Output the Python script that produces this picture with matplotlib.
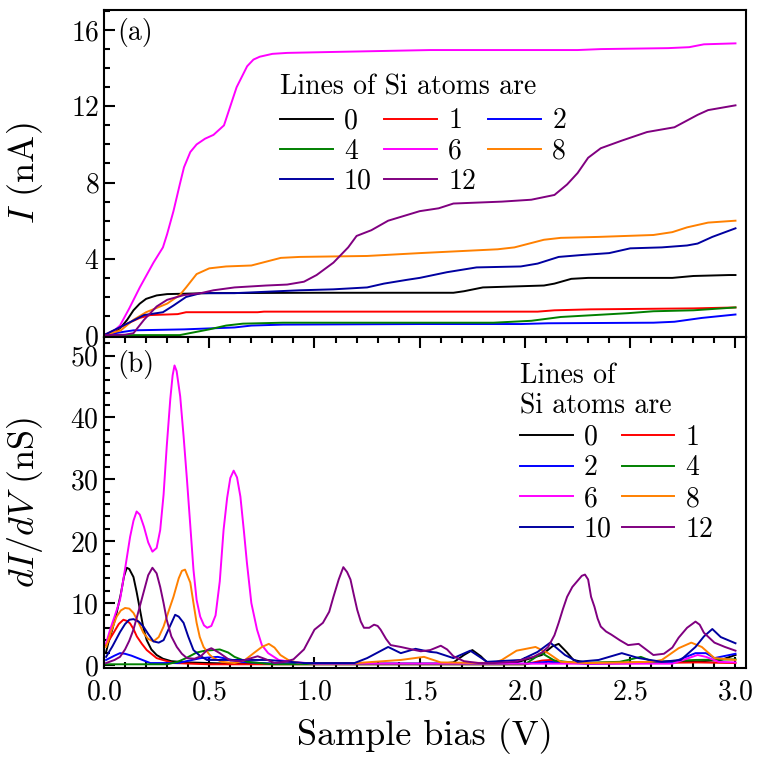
import numpy as np
import matplotlib
matplotlib.use("Agg")
import matplotlib.pyplot as plt
from matplotlib.ticker import MultipleLocator

# --- fonts: Computer Modern look ---
plt.rcParams['font.family'] = 'cmr10'
plt.rcParams['mathtext.fontset'] = 'cm'
plt.rcParams['axes.formatter.use_mathtext'] = True

# --- data: (a) current I (nA) vs sample bias (V) ---
labels = ['0', '1', '2', '4', '6', '8', '10', '12']
colors = ['black', '#ff0000', '#0000ff', '#008000', '#ff00ff', '#ff8000', '#0000a0', '#800080']

v_i0 = [0, 0.05, 0.08, 0.11, 0.14, 0.17, 0.2, 0.25, 0.3, 0.5, 1.0, 1.5, 1.66, 1.71, 1.8, 2.09,
        2.14, 2.22, 2.3, 2.7, 2.8, 2.97, 3.0]
i0 = [0, 0.15, 0.4, 0.8, 1.3, 1.65, 1.9, 2.08, 2.15, 2.2, 2.22, 2.22, 2.22, 2.3, 2.5, 2.6,
      2.7, 2.95, 3.0, 3.0, 3.1, 3.15, 3.15]

v_i1 = [0, 0.05, 0.11, 0.17, 0.22, 0.35, 0.39, 0.73, 0.76, 1.5, 2.06, 2.14, 2.31, 2.8, 3.0]
i1 = [0, 0.25, 0.6, 0.9, 1.05, 1.1, 1.2, 1.2, 1.23, 1.23, 1.23, 1.3, 1.35, 1.4, 1.45]

v_i2 = [0, 0.08, 0.14, 0.38, 0.62, 0.7, 0.85, 1.5, 1.98, 2.11, 2.61, 2.71, 2.84, 3.0]
i2 = [0, 0.15, 0.25, 0.3, 0.4, 0.5, 0.55, 0.58, 0.58, 0.62, 0.65, 0.7, 0.9, 1.08]

v_i4 = [0, 0.36, 0.43, 0.5, 0.58, 0.66, 0.85, 1.5, 1.85, 2.03, 2.17, 2.33, 2.49, 2.61, 2.8, 3.0]
i4 = [0, 0, 0.15, 0.3, 0.5, 0.6, 0.65, 0.65, 0.65, 0.75, 0.95, 1.05, 1.15, 1.25, 1.3, 1.45]

v_i6 = [0, 0.04, 0.076, 0.12, 0.17, 0.235, 0.28, 0.3, 0.33, 0.36, 0.38, 0.41, 0.44, 0.48, 0.52,
        0.57, 0.6, 0.63, 0.68, 0.71, 0.74, 0.8, 0.87, 1.09, 1.55, 2.25, 2.36, 2.68, 2.78,
        2.85, 3.0]
i6 = [0, 0.15, 0.5, 1.4, 2.5, 3.8, 4.6, 5.3, 6.5, 7.9, 8.8, 9.6, 10.0, 10.3, 10.5,
      11.0, 12.0, 13.0, 14.1, 14.45, 14.6, 14.75, 14.8, 14.85, 14.95, 14.95, 15.0, 15.05, 15.1,
      15.25, 15.3]

v_i8 = [0, 0.08, 0.14, 0.2, 0.3, 0.36, 0.39, 0.44, 0.5, 0.58, 0.7, 0.77, 0.84, 0.93, 1.25,
        1.5, 1.87, 1.95, 2.09, 2.17, 2.35, 2.61, 2.7, 2.77, 2.87, 3.0]
i8 = [0, 0.25, 0.8, 1.2, 1.65, 2.1, 2.5, 3.2, 3.5, 3.6, 3.65, 3.85, 4.05, 4.1, 4.15,
      4.3, 4.5, 4.6, 5.0, 5.1, 5.15, 5.25, 5.4, 5.65, 5.9, 6.0]

v_i10 = [0, 0.11, 0.19, 0.28, 0.33, 0.39, 0.46, 0.62, 0.93, 1.09, 1.25, 1.33, 1.44, 1.5, 1.63,
         1.77, 1.98, 2.06, 2.16, 2.27, 2.4, 2.5, 2.65, 2.77, 2.82, 2.89, 3.0]
i10 = [0, 0.6, 1.05, 1.2, 1.55, 2.0, 2.2, 2.2, 2.35, 2.4, 2.5, 2.7, 2.9, 3.0, 3.3,
       3.55, 3.6, 3.75, 4.1, 4.2, 4.3, 4.55, 4.6, 4.7, 4.8, 5.15, 5.6]

v_i12 = [0, 0.1, 0.14, 0.19, 0.25, 0.3, 0.38, 0.46, 0.52, 0.62, 0.77, 0.87, 0.95, 1.01, 1.09,
         1.16, 1.2, 1.27, 1.35, 1.44, 1.5, 1.59, 1.66, 1.89, 2.03, 2.14, 2.2, 2.25, 2.3, 2.36,
         2.46, 2.58, 2.71, 2.82, 2.87, 3.0]
i12 = [0, 0.02, 0.1, 0.8, 1.5, 1.85, 2.1, 2.2, 2.35, 2.5, 2.6, 2.65, 2.8, 3.15, 3.8,
       4.6, 5.2, 5.5, 6.0, 6.3, 6.5, 6.65, 6.9, 7.0, 7.1, 7.35, 7.9, 8.5, 9.3, 9.8,
       10.2, 10.65, 10.9, 11.55, 11.8, 12.05]

# --- data: (b) dI/dV (nS) vs sample bias (V) ---
v_g0 = [0.01, 0.02, 0.04, 0.06, 0.08, 0.095, 0.108, 0.12, 0.14, 0.155, 0.171, 0.187, 0.203,
        0.225, 0.25, 0.28, 0.32, 0.4, 0.6, 1.6, 1.66, 1.71, 1.75, 1.79, 1.82, 1.95,
        2.08, 2.13, 2.16, 2.2, 2.23, 2.3, 2.8, 2.93, 3.0]
g0 = [2.1, 3.5, 5.8, 8.4, 11.5, 14.3, 15.7, 15.5, 14.2, 11.8, 8.9, 6.0, 4.0,
      2.5, 1.6, 1.0, 0.6, 0.4, 0.2, 0.2, 0.4, 1.6, 2.4, 1.4, 0.4, 0.3,
      1.6, 3.0, 3.4, 2.0, 0.8, 0.3, 0.5, 0.8, 1.6]

v_g1 = [0.01, 0.044, 0.07, 0.092, 0.11, 0.124, 0.14, 0.156, 0.18, 0.203, 0.25, 0.33, 0.5,
        2.0, 2.08, 2.12, 2.17, 2.3, 2.82, 3.0]
g1 = [3.2, 5.1, 6.6, 7.3, 7.1, 6.7, 5.8, 4.6, 3.4, 2.4, 1.1, 0.3, 0.1,
      0.1, 0.7, 0.8, 0.5, 0.2, 0.4, 0.3]

v_g2 = [0.01, 0.05, 0.076, 0.1, 0.13, 0.16, 0.22, 0.35, 0.46, 0.54, 0.65, 0.8, 2.0, 2.11,
        2.3, 2.7, 2.81, 2.86, 2.9, 3.0]
g2 = [0.8, 1.5, 1.9, 1.8, 1.5, 1.1, 0.3, 0.3, 1.1, 1.3, 0.5, 0.2, 0.2, 0.5,
      0.2, 0.4, 1.9, 1.9, 1.1, 1.8]

v_g4 = [0.01, 0.3, 0.35, 0.39, 0.44, 0.48, 0.52, 0.55, 0.59, 0.62, 0.68, 0.8, 2.0, 2.08, 2.14,
        2.25, 2.45, 2.49, 2.55, 2.61, 2.81, 3.0]
g4 = [0.1, 0.1, 0.5, 1.1, 2.0, 2.3, 2.4, 2.5, 2.0, 1.3, 0.5, 0.1, 0.1, 1.9, 0.7,
      0.3, 0.5, 0.8, 1.3, 0.5, 0.8, 0.9]

v_g6 = [0.01, 0.03, 0.05, 0.076, 0.1, 0.124, 0.14, 0.155, 0.17, 0.19, 0.21, 0.23, 0.25, 0.267,
        0.283, 0.298, 0.315, 0.326, 0.335, 0.345, 0.362, 0.378, 0.394, 0.41, 0.425, 0.44,
        0.457, 0.475, 0.49, 0.51, 0.53, 0.55, 0.568, 0.585, 0.6, 0.616, 0.632, 0.648, 0.665,
        0.679, 0.7, 0.727, 0.75, 0.78, 0.83, 0.89, 1.0, 2.7, 2.82, 2.86, 2.92, 3.0]
g6 = [3.5, 5.8, 7.8, 10.5, 15.5, 20.7, 23.3, 24.8, 24.3, 22.3, 19.8, 18.3, 18.9, 21.8,
      27.5, 35.3, 43.0, 46.8, 48.4, 47.5, 43.4, 37.0, 30.0, 22.5, 15.4, 10.5,
      7.8, 6.4, 6.0, 6.3, 8.0, 13.5, 21.8, 27.0, 30.2, 31.4, 30.3, 27.2, 21.5,
      16.5, 10.0, 5.7, 3.2, 1.9, 0.8, 0.5, 0.2, 0.2, 1.6, 1.3, 0.5, 0.4]

v_g8 = [0.01, 0.035, 0.06, 0.08, 0.1, 0.12, 0.14, 0.165, 0.187, 0.21, 0.235, 0.26, 0.283, 0.31,
        0.33, 0.355, 0.37, 0.385, 0.41, 0.425, 0.44, 0.455, 0.473, 0.5, 0.52, 0.56, 0.62,
        0.67, 0.711, 0.75, 0.783, 0.81, 0.838, 0.88, 0.93, 1.2, 1.41, 1.52, 1.6, 1.85, 1.89,
        1.96, 2.05, 2.11, 2.17, 2.3, 2.6, 2.65, 2.73, 2.79, 2.84, 2.9, 3.0]
g8 = [2.9, 5.5, 7.8, 8.8, 9.2, 9.1, 8.4, 6.8, 5.2, 4.2, 3.8, 4.5, 6.2, 9.0,
      11.0, 14.0, 15.2, 15.4, 13.3, 10.0, 6.8, 4.5, 2.9, 1.7, 1.1, 0.5, 0.3,
      0.8, 1.9, 2.9, 3.4, 2.8, 1.6, 0.7, 0.3, 0.3, 0.8, 1.3, 0.4, 0.3, 0.8,
      2.3, 2.9, 1.9, 0.5, 0.3, 0.5, 0.8, 2.7, 3.6, 2.9, 1.1, 0.8]

v_g10 = [0.01, 0.04, 0.076, 0.1, 0.12, 0.14, 0.165, 0.187, 0.21, 0.235, 0.26, 0.283, 0.31,
         0.338, 0.355, 0.378, 0.4, 0.425, 0.455, 0.489, 0.55, 0.62, 0.78, 0.95, 1.19,
         1.25, 1.35, 1.41, 1.48, 1.55, 1.58, 1.66, 1.74, 1.82, 1.98, 2.06, 2.12, 2.19, 2.25,
         2.35, 2.46, 2.54, 2.65, 2.74, 2.81, 2.85, 2.89, 2.93, 3.0]
g10 = [1.3, 3.0, 5.3, 6.6, 7.3, 7.4, 7.0, 6.2, 5.0, 3.8, 3.6, 4.0, 6.0,
       8.1, 7.8, 6.8, 4.6, 2.4, 1.5, 0.8, 0.8, 0.8, 0.8, 0.3, 0.3,
       1.1, 2.9, 1.9, 2.6, 2.1, 2.0, 1.1, 2.3, 0.5, 0.8, 2.1, 3.6, 1.6, 0.5,
       0.8, 1.9, 1.1, 0.5, 0.8, 2.9, 4.6, 5.8, 4.5, 3.5]

v_g12 = [0.01, 0.05, 0.076, 0.1, 0.12, 0.14, 0.165, 0.187, 0.21, 0.23, 0.25, 0.267, 0.283,
         0.298, 0.32, 0.346, 0.37, 0.394, 0.43, 0.46, 0.49, 0.51, 0.55, 0.6, 0.65, 0.7, 0.73,
         0.77, 0.81, 0.86, 0.9, 0.95, 1.0, 1.04, 1.07, 1.09, 1.115, 1.137, 1.155, 1.171,
         1.187, 1.203, 1.22, 1.235, 1.26, 1.283, 1.3, 1.314, 1.34, 1.362, 1.41, 1.45, 1.505,
         1.55, 1.6, 1.63, 1.66, 1.71, 1.78, 1.85, 1.95, 2.04, 2.08, 2.11, 2.14, 2.16, 2.18,
         2.2, 2.225, 2.25, 2.27, 2.285, 2.3, 2.314, 2.33, 2.345, 2.36, 2.385, 2.41, 2.45,
         2.49, 2.54, 2.575, 2.61, 2.66, 2.7, 2.73, 2.77, 2.81, 2.83, 2.85, 2.9, 2.95, 3.0]
g12 = [0.3, 0.8, 1.3, 2.5, 3.9, 5.7, 8.8, 11.6, 14.5, 15.7, 14.8, 12.6, 10.0,
       7.3, 4.6, 2.9, 1.8, 1.1, 1.0, 1.4, 2.4, 2.7, 1.9, 0.7, 0.6, 1.1, 1.4,
       0.9, 0.3, 0.5, 0.9, 2.5, 5.7, 6.8, 8.6, 11.0, 13.8, 15.8, 15.0, 13.8,
       11.3, 8.9, 7.0, 6.0, 6.0, 6.5, 6.3, 5.7, 4.2, 3.2, 2.9, 2.6, 2.2,
       2.4, 3.1, 2.5, 1.4, 0.6, 0.3, 0.3, 0.5, 1.3, 2.0, 2.9, 4.8, 6.8, 9.0,
       11.0, 12.6, 13.6, 14.4, 14.6, 13.8, 11.0, 9.4, 7.5, 6.2, 5.4, 4.9, 4.0,
       3.2, 3.4, 2.5, 1.6, 1.8, 2.8, 4.4, 6.0, 7.0, 6.5, 5.2, 3.6, 2.9, 2.3]

curves_i = [(v_i0, i0), (v_i1, i1), (v_i2, i2), (v_i4, i4),
            (v_i6, i6), (v_i8, i8), (v_i10, i10), (v_i12, i12)]
curves_g = [(v_g0, g0), (v_g1, g1), (v_g2, g2), (v_g4, g4),
            (v_g6, g6), (v_g8, g8), (v_g10, g10), (v_g12, g12)]

W, H = 759, 763
fig = plt.figure(figsize=(W / 100, H / 100), dpi=100)
left, right = 104 / W, 746 / W
ax_a = fig.add_axes([left, 1 - 337 / H, right - left, 327 / H])
ax_b = fig.add_axes([left, 1 - 668 / H, right - left, 331 / H])

lines_a, lines_b = [], []
for (x, y), c, lab in zip(curves_i, colors, labels):
    ln, = ax_a.plot(x, y, color=c, lw=1.4, label=lab)
    lines_a.append(ln)
for (x, y), c, lab in zip(curves_g, colors, labels):
    ln, = ax_b.plot(x, y, color=c, lw=1.4, label=lab)
    lines_b.append(ln)

for ax in (ax_a, ax_b):
    ax.set_xlim(0, 3.05)
    ax.xaxis.set_major_locator(MultipleLocator(0.5))
    ax.xaxis.set_minor_locator(MultipleLocator(0.1))
    for s in ax.spines.values():
        s.set_linewidth(1.5)
    ax.tick_params(which='both', direction='in', right=False, width=1.5, labelsize=20)
    ax.tick_params(which='major', length=8)
    ax.tick_params(which='minor', length=4.5)

ax_a.set_ylim(-0.1, 17.05)
ax_a.yaxis.set_major_locator(MultipleLocator(4))
ax_a.yaxis.set_minor_locator(MultipleLocator(1))
ax_a.tick_params(axis='x', which='both', bottom=False, top=False, labelbottom=False)

ax_b.set_ylim(-0.5, 53)
ax_b.yaxis.set_major_locator(MultipleLocator(10))
ax_b.yaxis.set_minor_locator(MultipleLocator(2))
ax_b.tick_params(axis='x', which='both', top=True, pad=8)

ax_a.set_ylabel(r'$I$ (nA)', fontsize=26)
ax_b.set_ylabel(r'$dI/dV$ (nS)', fontsize=26)
ax_a.yaxis.set_label_coords(-0.092, 0.5)
ax_b.yaxis.set_label_coords(-0.092, 0.5)
ax_b.set_xlabel('Sample bias (V)', fontsize=26, labelpad=9)

ax_a.text(0.02, 0.975, '(a)', transform=ax_a.transAxes, fontsize=20, va='top')
ax_b.text(0.02, 0.96, '(b)', transform=ax_b.transAxes, fontsize=20, va='top')

# legend (a): rows 0 1 2 / 4 6 8 / 10 12, title drawn as text above
order_a = [0, 3, 6, 1, 4, 7, 2, 5]
ax_a.text(0.274, 0.763, 'Lines of Si atoms are', transform=ax_a.transAxes,
          fontsize=20, ha='left', va='center')
ax_a.legend([lines_a[k] for k in order_a], [labels[k] for k in order_a],
            fontsize=20, ncol=3, frameon=False, loc='upper left',
            bbox_to_anchor=(0.274, 0.70), borderpad=0, borderaxespad=0,
            handlelength=1.9, handletextpad=0.4, columnspacing=0.45, labelspacing=0.14)

# legend (b): rows 0 1 / 2 4 / 6 8 / 10 12
order_b = [0, 2, 4, 6, 1, 3, 5, 7]
ax_b.legend([lines_b[k] for k in order_b], [labels[k] for k in order_b],
            title='Lines of\nSi atoms are', title_fontsize=20, fontsize=20,
            ncol=2, frameon=False, loc='upper left', bbox_to_anchor=(0.648, 0.921),
            borderpad=0, borderaxespad=0, handlelength=1.9, handletextpad=0.4,
            columnspacing=0.35, labelspacing=0.16, alignment='left')

fig.savefig('out.png', dpi=100)
